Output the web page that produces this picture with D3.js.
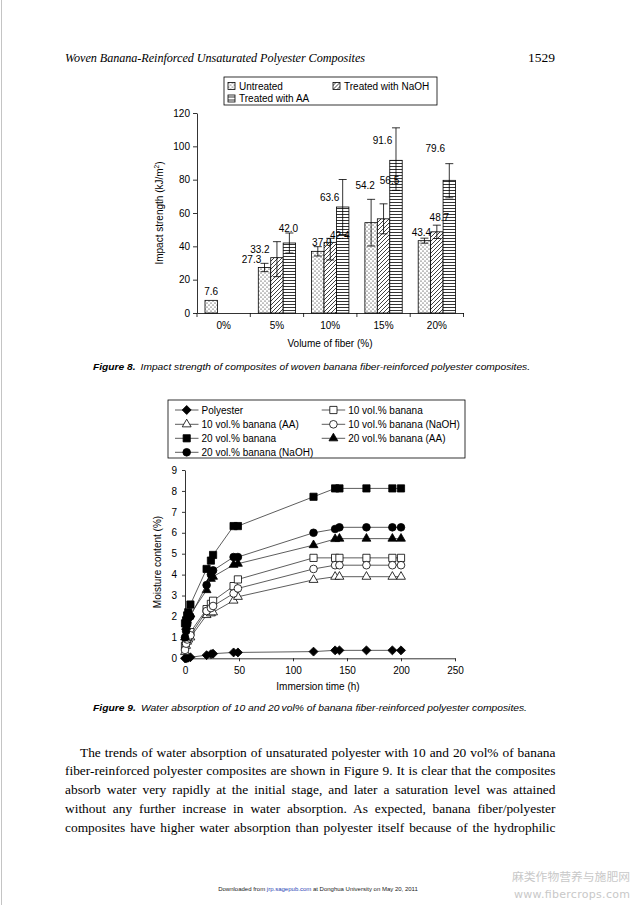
<!DOCTYPE html>
<html>
<head>
<meta charset="utf-8">
<script src="https://cdn.jsdelivr.net/npm/d3@7"></script>
<style>
  body { margin: 0; background: #fff; }
  svg { display: block; }
</style>
</head>
<body>
<svg id="page" width="635" height="905"></svg>
<script>
// ---- Figure 8: impact strength ----
const fiberVolumes = ['0%', '5%', '10%', '15%', '20%'];
const impactSeries = ['Untreated', 'Treated with NaOH', 'Treated with AA'];
const untreated = [7.6, 27.3, 37.0, 54.2, 43.4];
const treatedNaOH = [null, 33.2, 42.4, 56.5, 48.7];
const treatedAA = [null, 42.0, 63.6, 91.6, 79.6];
const untreatedErrHi = [0, 2.5, 2.8, 14, 1.5];
const untreatedErrLo = [0, 2.5, 2.8, 14, 1.5];
const naohErrHi = [0, 9.6, 2.4, 9, 4];
const naohErrLo = [0, 11.4, 10.6, 9, 4];
const aaErrHi = [0, 6, 16.5, 19.5, 10];
const aaErrLo = [0, 6, 16.5, 18, 10.5];
const impactTicks = [0, 20, 40, 60, 80, 100, 120];

// ---- Figure 9: water absorption ----
const immersionHours = [0, 1, 2, 3, 5, 20, 24, 26, 45, 49, 119, 139, 143, 168, 192, 200];
const moistureSeries = [
  'Polyester', '10 vol.% banana', '10 vol.% banana (AA)', '10 vol.% banana (NaOH)',
  '20 vol.% banana', '20 vol.% banana (AA)', '20 vol.% banana (NaOH)'
];
const polyester = [0, 0, 0.02, 0.03, 0.05, 0.15, 0.2, 0.22, 0.28, 0.28, 0.32, 0.38, 0.38, 0.38, 0.38, 0.38];
const banana10 = [0.6, 0.8, 1.0, 1.1, 1.25, 2.35, 2.6, 2.75, 3.45, 3.77, 4.8, 4.8, 4.8, 4.8, 4.8, 4.8];
const banana10AA = [0.3, 0.6, 0.8, 0.9, 1.0, 2.07, 2.15, 2.2, 2.76, 2.94, 3.75, 3.9, 3.9, 3.9, 3.9, 3.9];
const banana10NaOH = [0.4, 0.7, 0.9, 1.0, 1.1, 2.26, 2.4, 2.5, 3.1, 3.34, 4.27, 4.45, 4.45, 4.45, 4.45, 4.45];
const banana20 = [1.67, 1.8, 2.05, 2.2, 2.57, 4.27, 4.67, 4.94, 6.32, 6.32, 7.72, 8.12, 8.12, 8.12, 8.12, 8.12];
const banana20AA = [1.0, 1.5, 1.8, 2.0, 2.1, 3.26, 3.8, 3.9, 4.47, 4.52, 5.41, 5.7, 5.72, 5.72, 5.72, 5.72];
const banana20NaOH = [1.0, 1.3, 1.6, 1.9, 2.0, 3.5, 4.0, 4.2, 4.84, 4.84, 6.0, 6.18, 6.26, 6.26, 6.26, 6.26];
const moistureTicks = [0, 1, 2, 3, 4, 5, 6, 7, 8, 9];
const hourTicks = [0, 50, 100, 150, 200, 250];

const paragraph = [
  'The trends of water absorption of unsaturated polyester with 10 and 20 vol% of banana',
  'fiber-reinforced polyester composites are shown in Figure 9. It is clear that the composites',
  'absorb water very rapidly at the initial stage, and later a saturation level was attained',
  'without any further increase in water absorption. As expected, banana fiber/polyester',
  'composites have higher water absorption than polyester itself because of the hydrophilic'
];

const SANS = 'Liberation Sans, Arial, sans-serif';
const SERIF = 'Liberation Serif, Times New Roman, serif';

const svg = d3.select('#page');

// left page edge
svg.append('line')
  .attr('x1', 1.5).attr('x2', 1.5).attr('y1', 0).attr('y2', 905)
  .attr('stroke', '#c4c4c4');

// running head
svg.append('text')
  .attr('x', 65).attr('y', 62)
  .attr('font-family', SERIF).attr('font-style', 'italic').attr('font-size', 12.2)
  .attr('textLength', 300).attr('lengthAdjust', 'spacing')
  .text('Woven Banana-Reinforced Unsaturated Polyester Composites');
svg.append('text')
  .attr('x', 555).attr('y', 62).attr('text-anchor', 'end')
  .attr('font-family', SERIF).attr('font-size', 13.5)
  .text('1529');

// fill patterns
const defs = svg.append('defs');
const dots = defs.append('pattern').attr('id', 'pDots')
  .attr('patternUnits', 'userSpaceOnUse').attr('width', 4).attr('height', 4);
dots.append('rect').attr('width', 4).attr('height', 4).attr('fill', '#fff');
dots.append('circle').attr('cx', 1).attr('cy', 1).attr('r', 0.55).attr('fill', '#000');
dots.append('circle').attr('cx', 3).attr('cy', 3).attr('r', 0.55).attr('fill', '#000');

const diag = defs.append('pattern').attr('id', 'pDiag')
  .attr('patternUnits', 'userSpaceOnUse').attr('width', 4).attr('height', 4);
diag.append('rect').attr('width', 4).attr('height', 4).attr('fill', '#fff');
diag.append('path').attr('d', 'M-1,1L1,-1M0,4L4,0M3,5L5,3')
  .attr('stroke', '#000').attr('stroke-width', 0.75);

const hlines = defs.append('pattern').attr('id', 'pHoriz')
  .attr('patternUnits', 'userSpaceOnUse').attr('width', 4).attr('height', 3);
hlines.append('rect').attr('width', 4).attr('height', 3).attr('fill', '#fff');
hlines.append('line').attr('x1', 0).attr('x2', 4).attr('y1', 1.5).attr('y2', 1.5)
  .attr('stroke', '#000').attr('stroke-width', 0.8);

drawImpactChart();
drawMoistureChart();
drawCaptions();
drawParagraph();
drawFooter();

function drawImpactChart() {
  const g = svg.append('g').attr('class', 'impact');
  const x = d3.scaleBand().domain(fiberVolumes).range([197, 463.5]);
  const sub = d3.scaleBand().domain(impactSeries)
    .range([x.bandwidth() * 0.15, x.bandwidth() * 0.85]);
  const y = d3.scaleLinear().domain([0, 120]).range([313, 113]);

  const fills = ['url(#pDots)', 'url(#pDiag)', 'url(#pHoriz)'];
  const values = [untreated, treatedNaOH, treatedAA];
  const errHi = [untreatedErrHi, naohErrHi, aaErrHi];
  const errLo = [untreatedErrLo, naohErrLo, aaErrLo];

  // label nudges in px relative to bar top centre (placed by hand in the original)
  const labelNudge = [
    [[0, -5], [-13, -5], [4, -5.5], [-6, -33.5], [-3, -5]],
    [null, [-17, -5], [9.5, -3.5], [6, -35], [2.5, -11]],
    [null, [-1, -11], [-13, -6.5], [-13.5, -16.5], [-14, -28]]
  ];

  const bars = [];
  values.forEach((arr, s) => {
    arr.forEach((v, c) => {
      if (v == null) return;
      bars.push({ s, c, v, hi: errHi[s][c], lo: errLo[s][c] });
    });
  });

  g.selectAll('rect.bar')
    .data(bars)
    .join('rect')
    .attr('class', 'bar')
    .attr('x', d => x(fiberVolumes[d.c]) + sub(impactSeries[d.s]))
    .attr('width', sub.bandwidth())
    .attr('y', d => y(d.v))
    .attr('height', d => y(0) - y(d.v))
    .attr('fill', d => fills[d.s])
    .attr('stroke', '#000')
    .attr('stroke-width', 0.8);

  const cx = d => x(fiberVolumes[d.c]) + sub(impactSeries[d.s]) + sub.bandwidth() / 2;
  const err = g.selectAll('g.err')
    .data(bars.filter(d => d.hi > 0))
    .join('g')
    .attr('class', 'err')
    .attr('stroke', '#000')
    .attr('stroke-width', 0.8);
  err.append('line')
    .attr('x1', cx).attr('x2', cx)
    .attr('y1', d => y(d.v + d.hi)).attr('y2', d => y(d.v - d.lo));
  err.append('line')
    .attr('x1', d => cx(d) - 4).attr('x2', d => cx(d) + 4)
    .attr('y1', d => y(d.v + d.hi)).attr('y2', d => y(d.v + d.hi));
  err.append('line')
    .attr('x1', d => cx(d) - 4).attr('x2', d => cx(d) + 4)
    .attr('y1', d => y(d.v - d.lo)).attr('y2', d => y(d.v - d.lo));

  const labels = g.append('g').attr('class', 'labels');
  bars.forEach(d => {
    const nudge = labelNudge[d.s][d.c];
    labels.append('text')
      .attr('x', cx(d) + nudge[0])
      .attr('y', y(d.v) + nudge[1])
      .attr('text-anchor', 'middle')
      .attr('font-family', SANS).attr('font-size', 10)
      .text(d.v.toFixed(1));
  });

  // axes
  const yAxis = g.append('g')
    .attr('transform', 'translate(197,0)')
    .call(d3.axisLeft(y).tickValues(impactTicks).tickSize(4).tickSizeOuter(0).tickPadding(3));
  const xAxis = g.append('g')
    .attr('transform', 'translate(0,313)')
    .call(d3.axisBottom(x).tickSize(0).tickPadding(9));
  [yAxis, xAxis].forEach(a => {
    a.attr('font-family', SANS).attr('font-size', 10);
    a.selectAll('path,line').attr('stroke', '#000').attr('stroke-width', 0.8);
    a.selectAll('text').attr('fill', '#000');
  });
  xAxis.selectAll('line.bound')
    .data(fiberVolumes.map(d => x(d)).concat([x.range()[1]]))
    .join('line')
    .attr('class', 'bound')
    .attr('x1', d => d).attr('x2', d => d)
    .attr('y1', 0).attr('y2', 4)
    .attr('stroke', '#000').attr('stroke-width', 0.8);

  const yt = g.append('text')
    .attr('transform', 'translate(163,213) rotate(-90)')
    .attr('text-anchor', 'middle')
    .attr('font-family', SANS).attr('font-size', 10);
  yt.append('tspan').text('Impact strength (kJ/m');
  yt.append('tspan').attr('font-size', 6.5).attr('dy', -4).text('2');
  yt.append('tspan').attr('dy', 4).text(')');

  g.append('text')
    .attr('x', 330).attr('y', 347)
    .attr('text-anchor', 'middle')
    .attr('font-family', SANS).attr('font-size', 10)
    .text('Volume of fiber (%)');

  // legend
  const lg = g.append('g');
  lg.append('rect')
    .attr('x', 224).attr('y', 77).attr('width', 213).attr('height', 28)
    .attr('fill', '#fff').attr('stroke', '#000').attr('stroke-width', 0.8);
  const legendPos = [[231.5, 86], [336.5, 86], [231.5, 98.5]];
  const item = lg.selectAll('g.item')
    .data(impactSeries)
    .join('g')
    .attr('class', 'item')
    .attr('transform', (d, i) => `translate(${legendPos[i][0]},${legendPos[i][1]})`);
  item.append('rect')
    .attr('x', -3.5).attr('y', -3.5).attr('width', 7).attr('height', 7)
    .attr('fill', (d, i) => fills[i])
    .attr('stroke', '#000').attr('stroke-width', 0.8);
  item.append('text')
    .attr('x', 7.5).attr('y', 3.6)
    .attr('font-family', SANS).attr('font-size', 10)
    .text(d => d);
}

function drawMoistureChart() {
  const g = svg.append('g').attr('class', 'moisture');
  const x = d3.scaleLinear().domain([0, 250]).range([185, 455]);
  const y = d3.scaleLinear().domain([0, 9]).range([658.3, 470]);

  const values = [polyester, banana10, banana10AA, banana10NaOH, banana20, banana20AA, banana20NaOH];
  const shapes = [
    { type: d3.symbolSquare, size: 40, rot: 45, fill: '#000' },
    { type: d3.symbolSquare, size: 52, rot: 0, fill: '#fff' },
    { type: d3.symbolTriangle, size: 34, rot: 0, fill: '#fff' },
    { type: d3.symbolCircle, size: 46, rot: 0, fill: '#fff' },
    { type: d3.symbolSquare, size: 52, rot: 0, fill: '#000' },
    { type: d3.symbolTriangle, size: 34, rot: 0, fill: '#000' },
    { type: d3.symbolCircle, size: 46, rot: 0, fill: '#000' }
  ];

  const line = d3.line().x(d => x(d[0])).y(d => y(d[1]));

  // axes
  const yAxis = g.append('g')
    .attr('transform', 'translate(185,0)')
    .call(d3.axisLeft(y).tickValues(moistureTicks).tickSize(3).tickSizeOuter(0).tickPadding(5));
  const xAxis = g.append('g')
    .attr('transform', 'translate(0,658.3)')
    .call(d3.axisBottom(x).tickValues(hourTicks).tickSize(3).tickSizeOuter(0).tickPadding(6));
  [yAxis, xAxis].forEach(a => {
    a.attr('font-family', SANS).attr('font-size', 10);
    a.selectAll('path,line').attr('stroke', '#000').attr('stroke-width', 0.8);
    a.selectAll('text').attr('fill', '#000');
  });

  const series = g.selectAll('g.series')
    .data(values.map((arr, i) => ({ i, pts: arr.map((v, k) => [immersionHours[k], v]) })))
    .join('g')
    .attr('class', 'series');
  series.append('path')
    .attr('d', d => line(d.pts))
    .attr('fill', 'none')
    .attr('stroke', '#333')
    .attr('stroke-width', 0.8);
  series.selectAll('path.mk')
    .data(d => d.pts.map(p => ({ p, i: d.i })))
    .join('path')
    .attr('class', 'mk')
    .attr('transform', d => `translate(${x(d.p[0])},${y(d.p[1])}) rotate(${shapes[d.i].rot})`)
    .attr('d', d => d3.symbol().type(shapes[d.i].type).size(shapes[d.i].size)())
    .attr('fill', d => shapes[d.i].fill)
    .attr('stroke', '#000')
    .attr('stroke-width', 0.8);

  g.append('text')
    .attr('transform', 'translate(161,562) rotate(-90)')
    .attr('text-anchor', 'middle')
    .attr('font-family', SANS).attr('font-size', 10)
    .text('Moisture content (%)');
  g.append('text')
    .attr('x', 318).attr('y', 690)
    .attr('text-anchor', 'middle')
    .attr('font-family', SANS).attr('font-size', 10)
    .text('Immersion time (h)');

  // legend
  const lg = g.append('g');
  lg.append('rect')
    .attr('x', 168).attr('y', 400).attr('width', 297).attr('height', 58)
    .attr('fill', '#fff').attr('stroke', '#000').attr('stroke-width', 0.8);
  const rowY = [410, 424.3, 438.3, 452.3];
  const colX = [175, 321.7];
  const item = lg.selectAll('g.item')
    .data(moistureSeries)
    .join('g')
    .attr('class', 'item')
    .attr('transform', (d, i) => `translate(${colX[i % 2]},${rowY[Math.floor(i / 2)]})`);
  item.append('line')
    .attr('x1', 0).attr('x2', 23.5)
    .attr('stroke', '#333').attr('stroke-width', 0.8);
  item.append('path')
    .attr('transform', (d, i) => `translate(11.7,0) rotate(${shapes[i].rot})`)
    .attr('d', (d, i) => d3.symbol().type(shapes[i].type).size(shapes[i].size)())
    .attr('fill', (d, i) => shapes[i].fill)
    .attr('stroke', '#000').attr('stroke-width', 0.8);
  item.append('text')
    .attr('x', 26.5).attr('y', 3.6)
    .attr('font-family', SANS).attr('font-size', 10)
    .text(d => d);
}

function drawCaptions() {
  const caps = [
    { y: 369.5, n: 'Figure 8.', t: 'Impact strength of composites of woven banana fiber-reinforced polyester composites.', w: 437 },
    { y: 710.5, n: 'Figure 9.', t: 'Water absorption of 10 and 20\u2009vol% of banana fiber-reinforced polyester composites.', w: 434 }
  ];
  caps.forEach(c => {
    const t = svg.append('text')
      .attr('x', 93).attr('y', c.y)
      .attr('font-family', SANS).attr('font-size', 9.2).attr('font-style', 'italic')
      .attr('textLength', c.w).attr('lengthAdjust', 'spacingAndGlyphs');
    t.append('tspan').attr('font-weight', 'bold').text(c.n);
    t.append('tspan').text('\u2002' + c.t);
  });
}

function drawParagraph() {
  const lines = svg.selectAll('text.para')
    .data(paragraph)
    .join('text')
    .attr('class', 'para')
    .attr('x', (d, i) => (i === 0 ? 80 : 65))
    .attr('y', (d, i) => 756.5 + i * 18.9)
    .attr('font-family', SERIF).attr('font-size', 13.4)
    .text(d => d);
  // justify each line to the right margin by spreading the word gaps
  lines.each(function(d, i) {
    const el = d3.select(this);
    const target = 555.5 - (i === 0 ? 80 : 65);
    const natural = this.getComputedTextLength();
    const gaps = d.split(' ').length - 1;
    el.attr('word-spacing', (target - natural) / gaps);
  });
}

function drawFooter() {
  const f = svg.append('text')
    .attr('x', 318).attr('y', 890.5)
    .attr('text-anchor', 'middle')
    .attr('font-family', SANS).attr('font-size', 6)
    .attr('fill', '#222');
  f.append('tspan').text('Downloaded from ');
  f.append('tspan').attr('fill', '#2a3fb5').text('jrp.sagepub.com');
  f.append('tspan').text(' at Donghua University on May 20, 2011');

  svg.append('text')
    .attr('x', 630).attr('y', 881)
    .attr('text-anchor', 'end')
    .attr('font-family', 'Noto Sans CJK SC, sans-serif').attr('font-size', 11.8)
    .attr('fill', '#c8c8c8')
    .text('麻类作物营养与施肥网');
  svg.append('text')
    .attr('x', 630).attr('y', 898)
    .attr('text-anchor', 'end')
    .attr('font-family', 'DejaVu Sans, sans-serif').attr('font-size', 11)
    .attr('fill', '#c8c8c8')
    .attr('textLength', 116)
    .text('www.fibercrops.com');
}
</script>
</body>
</html>
